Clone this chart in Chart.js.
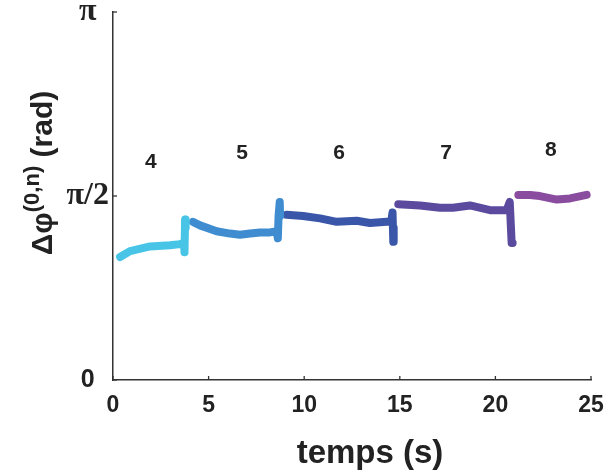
<!DOCTYPE html>
<html>
<head>
<meta charset="utf-8">
<script src="https://cdn.jsdelivr.net/npm/chart.js@4"></script>
<style>
  html, body { margin: 0; padding: 0; background: #fff; }
  #wrap { width: 613px; height: 470px; }
</style>
</head>
<body>
<div id="wrap"><canvas id="c"></canvas></div>
<script>
// phase segments, one per mode n (time in s, phase in rad)
const t4 = [0.37, 0.89, 1.94, 2.98, 3.50, 3.71, 3.74, 3.77, 3.80];
const phi4 = [1.05, 1.10, 1.14, 1.15, 1.16, 1.17, 1.09, 1.37, 1.30];
const t5 = [4.18, 4.55, 5.42, 6.12, 6.64, 7.17, 7.69, 8.21, 8.56, 8.62, 8.66, 8.72, 8.74];
const phi5 = [1.35, 1.32, 1.27, 1.25, 1.24, 1.25, 1.26, 1.26, 1.27, 1.21, 1.40, 1.52, 1.40];
const t6 = [9.08, 9.94, 10.83, 11.70, 12.75, 13.44, 14.31, 14.55, 14.62, 14.66, 14.68];
const phi6 = [1.41, 1.40, 1.38, 1.35, 1.36, 1.34, 1.35, 1.35, 1.43, 1.18, 1.30];
const t7 = [14.92, 16.06, 17.10, 17.78, 18.67, 19.72, 20.59, 20.75, 20.85, 20.90];
const phi7 = [1.50, 1.49, 1.47, 1.47, 1.49, 1.45, 1.45, 1.52, 1.17, 1.17];
const t8 = [21.20, 21.81, 22.33, 23.21, 23.90, 24.77];
const phi8 = [1.58, 1.58, 1.57, 1.54, 1.55, 1.58];

const modeNames = ['4', '5', '6', '7', '8'];
const modeLabelT = [1.98, 6.75, 11.82, 17.42, 22.9];
const modeLabelPhi = [1.86, 1.94, 1.94, 1.94, 1.96];
const modeColors = ['#48c5e6', '#3f8dd0', '#3a56a8', '#5b4a9d', '#8a4c9f'];

const yTickValues = [0, Math.PI / 2, Math.PI];
const yTickLabels = ['0', 'π/2', 'π'];
const xTickStep = 5;

const series = [[t4, phi4], [t5, phi5], [t6, phi6], [t7, phi7], [t8, phi8]];

const datasets = series.map((s, i) => ({
    label: 'n = ' + modeNames[i],
    data: s[0].map((t, k) => ({ x: t, y: s[1][k] })),
    borderColor: modeColors[i],
    backgroundColor: modeColors[i],
    borderWidth: 8,
    borderCapStyle: 'round',
    borderJoinStyle: 'round',
    pointRadius: 0,
    tension: 0
}));

const sans = '"Liberation Sans", Arial, sans-serif';

// inward ticks, mode numbers, x title and the y title with its superscript
const decor = {
    id: 'decor',
    afterDraw(chart) {
        const ctx = chart.ctx;
        const xs = chart.scales.x, ys = chart.scales.y;
        ctx.save();
        ctx.strokeStyle = '#333';
        ctx.lineWidth = 1.3;
        xs.ticks.forEach(tk => {
            const px = xs.getPixelForValue(tk.value);
            ctx.beginPath();
            ctx.moveTo(px, ys.bottom);
            ctx.lineTo(px, ys.bottom - 4);
            ctx.stroke();
        });
        ys.ticks.forEach(tk => {
            const py = ys.getPixelForValue(tk.value);
            ctx.beginPath();
            ctx.moveTo(xs.left, py);
            ctx.lineTo(xs.left + 4, py);
            ctx.stroke();
        });

        ctx.fillStyle = '#222';
        ctx.font = 'bold 21px ' + sans;
        ctx.textAlign = 'center';
        ctx.textBaseline = 'middle';
        modeNames.forEach((n, i) => {
            ctx.fillText(n, xs.getPixelForValue(modeLabelT[i]), ys.getPixelForValue(modeLabelPhi[i]));
        });

        // x title
        ctx.font = 'bold 33px ' + sans;
        ctx.textBaseline = 'alphabetic';
        ctx.fillText('temps (s)', 370, 463);

        // y title
        ctx.translate(52, 173);
        ctx.rotate(-Math.PI / 2);
        ctx.textAlign = 'left';
        const big = 'bold 30px ' + sans;
        const small = 'bold 22px ' + sans;
        const parts = [['Δφ', big, 0], ['(0,n)', small, -13], [' (rad)', big, 0]];
        let w = 0;
        parts.forEach(p => { ctx.font = p[1]; w += ctx.measureText(p[0]).width; });
        let x = -w / 2;
        parts.forEach(p => {
            ctx.font = p[1];
            ctx.fillText(p[0], x, p[2]);
            x += ctx.measureText(p[0]).width;
        });
        ctx.restore();
    }
};

new Chart(document.getElementById('c'), {
    type: 'line',
    data: { datasets },
    options: {
        responsive: true,
        maintainAspectRatio: false,
        animation: false,
        layout: { padding: { left: 0, right: 22, top: 12, bottom: 0 } },
        plugins: {
            legend: { display: false },
            tooltip: { enabled: false }
        },
        scales: {
            x: {
                type: 'linear',
                min: 0,
                max: 25,
                afterFit: axis => { axis.height = 90; axis.paddingLeft = 0; axis.paddingRight = 0; },
                ticks: {
                    stepSize: xTickStep,
                    color: '#222',
                    padding: 12,
                    maxRotation: 0,
                    font: { family: sans, size: 23, weight: 'bold' }
                },
                grid: { display: false, drawTicks: false },
                border: { display: true, color: '#333', width: 1.5 }
            },
            y: {
                type: 'linear',
                min: 0,
                max: Math.PI,
                afterBuildTicks: axis => { axis.ticks = yTickValues.map(v => ({ value: v })); },
                afterFit: axis => { axis.width = 113; axis.paddingTop = 0; axis.paddingBottom = 0; },
                ticks: {
                    color: '#222',
                    padding: 4,
                    crossAlign: 'center',
                    callback: (v) => {
                        const i = yTickValues.findIndex(tv => Math.abs(tv - v) < 1e-6);
                        return i >= 0 ? yTickLabels[i] : '';
                    },
                    font: (c) => {
                        const isZero = c.tick && c.tick.value === 0;
                        return {
                            family: isZero ? sans : '"Liberation Serif", "DejaVu Serif", serif',
                            size: isZero ? 25 : 32,
                            weight: 'bold'
                        };
                    }
                },
                grid: { display: false, drawTicks: false },
                border: { display: true, color: '#333', width: 1.5 }
            }
        }
    },
    plugins: [decor]
});
</script>
</body>
</html>
